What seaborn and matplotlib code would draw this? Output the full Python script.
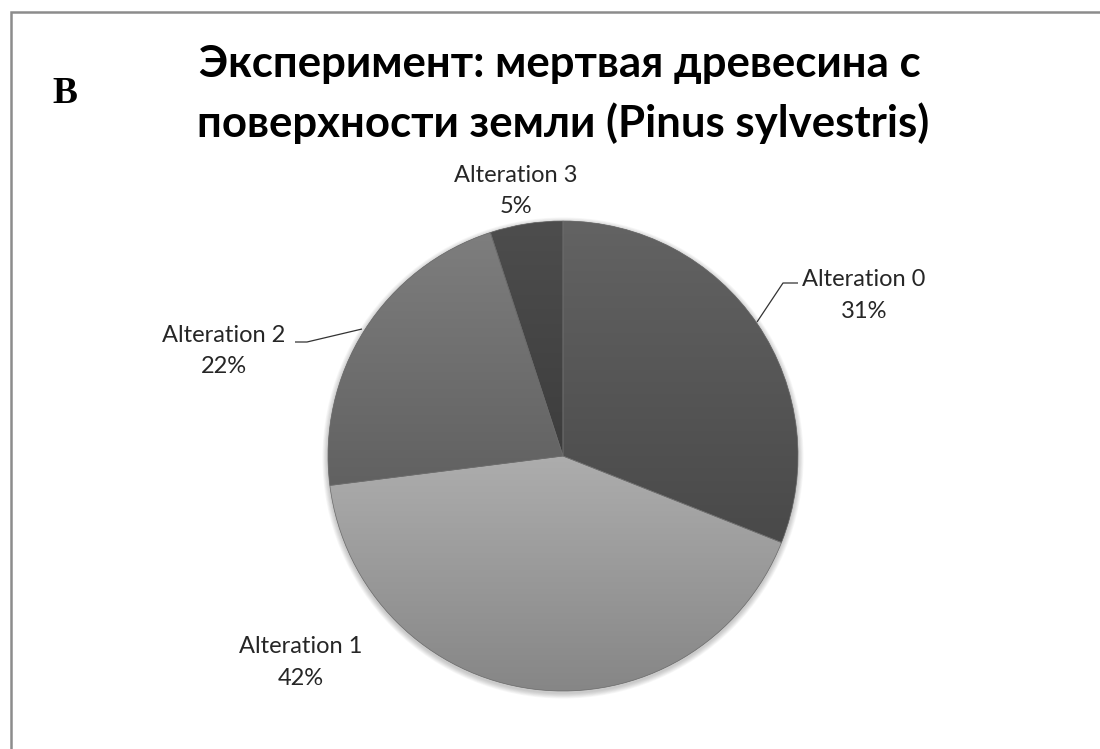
import numpy as np
import matplotlib
matplotlib.use("Agg")
import matplotlib.pyplot as plt
from matplotlib.colors import LinearSegmentedColormap, to_rgb
from matplotlib.patches import PathPatch
import seaborn as sns

# --- data -------------------------------------------------------------
categories = ["Alteration 0", "Alteration 1", "Alteration 2", "Alteration 3"]
shares = [31, 42, 22, 5]
pct_labels = ["31%", "42%", "22%", "5%"]
title_lines = ["Эксперимент: мертвая древесина с",
               "поверхности земли (Pinus sylvestris)"]
panel_letter = "В"

# --- styling ----------------------------------------------------------
sns.set_theme(style="white")
plt.rcParams["font.family"] = ["Lato", "DejaVu Sans"]

W, H = 1100, 749
fig = plt.figure(figsize=(W / 100, H / 100), dpi=100)
ax = fig.add_axes([0, 0, 1, 1])


def Y(py):
    """Convert a top-down pixel row to the axis y value."""
    return H - py


# top/bottom shades of the vertical gradient in each slice
shade_top = ["#636363", "#adadad", "#7e7e7e", "#4d4d4d"]
shade_bot = ["#494949", "#868686", "#616161", "#3d3d3d"]

cx, cy, r = 563, Y(456), 235

# soft drop shadow under the pie
for k in range(7, 0, -1):
    shadow = plt.Circle((cx, cy - 2), r + k * 0.8, facecolor="black",
                        edgecolor="none", alpha=0.03, lw=0, zorder=1)
    ax.add_patch(shadow)

wedges, _ = ax.pie(shares, center=(cx, cy), radius=r, startangle=90,
                   counterclock=False, colors=shade_top,
                   wedgeprops=dict(linewidth=0), frame=True)

for w, c0, c1 in zip(wedges, shade_top, shade_bot):
    w.set_zorder(2)
    ext = w.get_path().get_extents()
    cmap = LinearSegmentedColormap.from_list("g", [to_rgb(c0), to_rgb(c1)])
    grad = np.linspace(0, 1, 256).reshape(-1, 1)
    im = ax.imshow(grad, cmap=cmap, aspect="auto", origin="upper",
                   extent=(ext.x0, ext.x1, ext.y0, ext.y1), zorder=3,
                   interpolation="bilinear")
    im.set_clip_path(w)
    # thin separator along the slice outline
    ax.add_patch(PathPatch(w.get_path(), fill=False, ec="#6c6c6c", lw=0.5,
                           zorder=4))

# --- data labels ------------------------------------------------------
label_pos = {  # (x centre, name baseline, percent baseline) in pixels
    "Alteration 0": (864, 286, 318),
    "Alteration 1": (301, 653, 685),
    "Alteration 2": (224, 342, 373),
    "Alteration 3": (516, 182, 213),
}
txt_kw = dict(ha="center", va="baseline", fontsize=17, color="#262626",
              zorder=6)
for name, pct in zip(categories, pct_labels):
    x, b1, b2 = label_pos[name]
    ax.text(x, Y(b1), name, **txt_kw)
    ax.text(x, Y(b2), pct, **txt_kw)

# leader lines
ax.plot([757, 783, 798], [Y(322), Y(283), Y(283)], color="#333333",
        lw=0.9, zorder=6, solid_capstyle="butt")
ax.plot([295, 307, 362], [Y(342), Y(342), Y(329)], color="#333333",
        lw=0.9, zorder=6, solid_capstyle="butt")

# --- title and panel letter -------------------------------------------
ax.text(560, Y(77), title_lines[0], ha="center", va="baseline",
        fontsize=31.5, fontweight="bold", color="black")
ax.text(563, Y(137), title_lines[1], ha="center", va="baseline",
        fontsize=31.5, fontweight="bold", color="black")
ax.text(65, Y(103), panel_letter, ha="center", va="baseline",
        fontsize=27, fontweight="bold", color="black",
        family=["Liberation Serif", "DejaVu Serif"])

# frame lines along the left and top
ax.plot([11, 11, W], [0, Y(11.5), Y(11.5)], color="#8c8c8c", lw=1.8,
        solid_joinstyle="miter", zorder=7)

ax.set_xlim(0, W)
ax.set_ylim(0, H)
ax.set_aspect("equal")
ax.axis("off")
fig.savefig("out.png", dpi=100)
